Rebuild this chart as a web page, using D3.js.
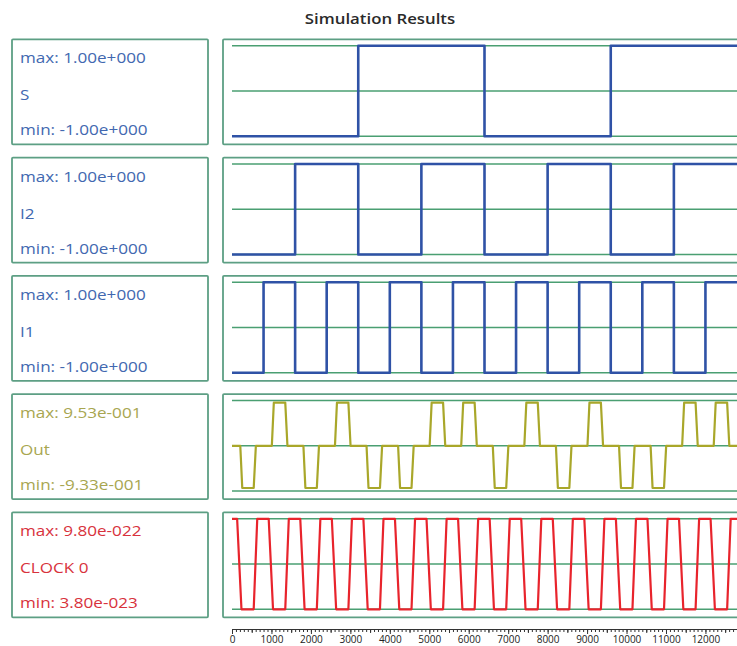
<!DOCTYPE html>
<html>
<head>
<meta charset="utf-8">
<script src="https://cdn.jsdelivr.net/npm/d3@7"></script>
<style>
  body { margin: 0; background: #fff; }
  svg { display: block; font-family: "Open Sans", "Noto Sans", sans-serif; }
</style>
</head>
<body>
<svg id="chart"></svg>
<script>
// panel labels
var panelNames = ["S", "I2", "I1", "Out", "CLOCK 0"];
var maxLabels = ["max: 1.00e+000", "max: 1.00e+000", "max: 1.00e+000", "max: 9.53e-001", "max: 9.80e-022"];
var minLabels = ["min: -1.00e+000", "min: -1.00e+000", "min: -1.00e+000", "min: -9.33e-001", "min: 3.80e-023"];
var panelLo = [-1, -1, -1, -1, 3.8e-23];
var panelHi = [1, 1, 1, 1, 9.8e-22];
var lineColors = ["#2f52a6", "#2f52a6", "#2f52a6", "#a9a72a", "#e8242c"];
var textColors = ["#4268b0", "#4268b0", "#4268b0", "#a8a650", "#d8323c"];

// time axis
var endTime = 12800;
var majorTicks = [0, 1000, 2000, 3000, 4000, 5000, 6000, 7000, 8000, 9000, 10000, 11000, 12000];

// square waves: start level, then edge times
var sStart = -1;
var sEdges = [3200, 6400, 9600];
var i2Start = -1;
var i2Edges = [1600, 3200, 4800, 6400, 8000, 9600, 11200];
var i1Start = -1;
var i1Edges = [800, 1600, 2400, 3200, 4000, 4800, 5600, 6400, 7200, 8000, 8800, 9600, 10400, 11200, 12000];

// Out: pulses [leave 0, reach level, hold end, back at 0]
var outPulses = [
  [210, 260, 550, 605], [1010, 1060, 1350, 1405], [1810, 1860, 2150, 2205], [2610, 2660, 2950, 3005],
  [3410, 3460, 3750, 3805], [4210, 4260, 4550, 4605], [5010, 5060, 5350, 5405], [5810, 5860, 6150, 6205],
  [6610, 6660, 6950, 7005], [7410, 7460, 7750, 7805], [8210, 8260, 8550, 8605], [9010, 9060, 9350, 9405],
  [9810, 9860, 10150, 10205], [10610, 10660, 10950, 11005], [11410, 11460, 11750, 11805], [12210, 12260, 12550, 12605]
];
var outLevels = [-0.933, 0.953, -0.933, 0.953, -0.933, -0.933, 0.953, 0.953,
                 -0.933, 0.953, -0.933, 0.953, -0.933, -0.933, 0.953, 0.953];

// CLOCK 0: cycles [fall start, fall end, rise start, rise end]
var clockHigh = 9.8e-22;
var clockLow = 3.8e-23;
var clockCycles = [
  [130, 240, 550, 640], [930, 1040, 1350, 1440], [1730, 1840, 2150, 2240], [2530, 2640, 2950, 3040],
  [3330, 3440, 3750, 3840], [4130, 4240, 4550, 4640], [4930, 5040, 5350, 5440], [5730, 5840, 6150, 6240],
  [6530, 6640, 6950, 7040], [7330, 7440, 7750, 7840], [8130, 8240, 8550, 8640], [8930, 9040, 9350, 9440],
  [9730, 9840, 10150, 10240], [10530, 10640, 10950, 11040], [11330, 11440, 11750, 11840], [12130, 12240, 12550, 12640]
];

var squarePoints = function (start, edges) {
  var pts = [[0, start]];
  var cur = start;
  edges.forEach(function (e) {
    pts.push([e, cur]);
    cur = -cur;
    pts.push([e, cur]);
  });
  pts.push([endTime, cur]);
  return pts;
};

var outPoints = function () {
  var pts = [[0, 0]];
  outPulses.forEach(function (p, i) {
    pts.push([p[0], 0], [p[1], outLevels[i]], [p[2], outLevels[i]], [p[3], 0]);
  });
  pts.push([endTime, 0]);
  return pts;
};

var clockPoints = function () {
  var pts = [[0, clockHigh]];
  clockCycles.forEach(function (c) {
    pts.push([c[0], clockHigh], [c[1], clockLow], [c[2], clockLow], [c[3], clockHigh]);
  });
  pts.push([endTime, clockHigh]);
  return pts;
};

var series = [
  squarePoints(sStart, sEdges),
  squarePoints(i2Start, i2Edges),
  squarePoints(i1Start, i1Edges),
  outPoints(),
  clockPoints()
];

var screen = { width: 737, height: 646 };
var svg = d3.select("#chart").attr("width", screen.width).attr("height", screen.height);

//layout
var panelTop = 39.3, panelStep = 118.25, panelH = 105;
var leftBox = { x: 12, w: 196 };
var plotBox = { x: 223, w: 540 };
var plotX0 = 232;
var gridColor = "#4a9f72";
var boxColor = "#5d9f84";

var xScale = d3.scaleLinear().domain([0, endTime]).range([plotX0, 737]);

//title
svg.append("text")
  .attr("transform", "translate(380,24) scale(1.12,1)")
  .attr("text-anchor", "middle")
  .attr("font-size", "15px")
  .attr("font-weight", 600)
  .attr("fill", "#2a2a2a")
  .text("Simulation Results");

panelNames.forEach(function (name, i) {
  var y0 = panelTop + i * panelStep;
  var yScale = d3.scaleLinear().domain([panelLo[i], panelHi[i]]).range([y0 + 97, y0 + 6.5]);
  var g = svg.append("g").classed("panel", true);

  // left label box
  g.append("rect")
    .attr("x", leftBox.x).attr("y", y0)
    .attr("width", leftBox.w).attr("height", panelH)
    .attr("fill", "none").attr("stroke", boxColor).attr("stroke-width", 1.8)
    .attr("rx", 1);

  var labels = [maxLabels[i], name, minLabels[i]];
  var offs = [19, 56, 91];
  labels.forEach(function (t, j) {
    g.append("text")
      .attr("transform", "translate(20," + (y0 + offs[j] + 5) + ") scale(1.14,1)")
      .attr("font-size", "15px")
      .attr("fill", textColors[i])
      .text(t);
  });

  // plot box
  g.append("rect")
    .attr("x", plotBox.x).attr("y", y0)
    .attr("width", plotBox.w).attr("height", panelH)
    .attr("fill", "none").attr("stroke", boxColor).attr("stroke-width", 1.8)
    .attr("rx", 1);

  // grid lines at max, mid, min
  var mid = (panelLo[i] + panelHi[i]) / 2;
  [panelHi[i], mid, panelLo[i]].forEach(function (v) {
    g.append("line")
      .attr("x1", xScale(0)).attr("x2", 737)
      .attr("y1", yScale(v)).attr("y2", yScale(v))
      .attr("stroke", gridColor).attr("stroke-width", 1.6);
  });

  var line = d3.line()
    .x(function (d) { return xScale(d[0]); })
    .y(function (d) { return yScale(d[1]); });

  g.append("path")
    .datum(series[i])
    .attr("d", line)
    .attr("fill", "none")
    .attr("stroke", lineColors[i])
    .attr("stroke-width", i < 3 ? 2.6 : 2.2)
    .attr("stroke-linejoin", "round");
});

//axis
var axisY = 629;
var minorAxis = d3.axisBottom(xScale)
  .tickValues(d3.range(0, endTime + 1, 100))
  .tickSize(3)
  .tickFormat("");
var midAxis = d3.axisBottom(xScale)
  .tickValues(d3.range(500, endTime, 1000))
  .tickSize(4)
  .tickFormat("");
var majorAxis = d3.axisBottom(xScale)
  .tickValues(majorTicks)
  .tickSize(5)
  .tickPadding(2)
  .tickFormat(d3.format("d"));

[minorAxis, midAxis, majorAxis].forEach(function (ax) {
  var ag = svg.append("g")
    .attr("transform", "translate(0," + axisY + ")")
    .call(ax);
  ag.selectAll("path, line").attr("stroke", "#333").attr("stroke-width", 1);
  ag.selectAll("text")
    .attr("font-family", "'Open Sans', sans-serif")
    .attr("font-size", "10px")
    .attr("fill", "#222");
});
</script>
</body>
</html>
